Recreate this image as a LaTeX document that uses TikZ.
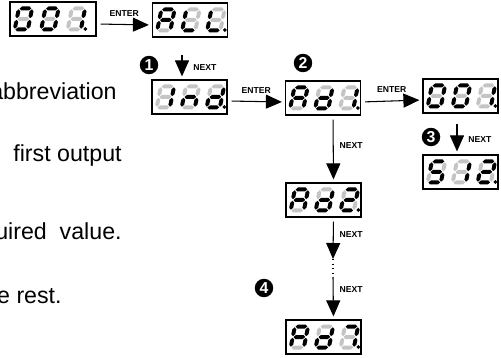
\documentclass[tikz,border=0pt]{standalone}
\usepackage{fontspec}
\setmainfont{Liberation Sans}
\usetikzlibrary{arrows.meta}
\tikzset{>={Triangle[length=3.2mm,width=2.8mm]}}
\definecolor{SegOff}{RGB}{196,196,196}

% segment codes a,b,c,d,e,f,g
\newcommand{\defseg}[2]{\expandafter\def\csname segcode#1\endcsname{#2}}
\defseg{0}{1,1,1,1,1,1,0}
\defseg{1}{0,1,1,0,0,0,0}
\defseg{2}{1,1,0,1,1,0,1}
\defseg{5}{1,0,1,1,0,1,1}
\defseg{7}{1,1,1,0,0,0,0}
\defseg{A}{1,1,1,0,1,1,1}
\defseg{L}{0,0,0,1,1,1,0}
\defseg{I}{0,1,1,0,0,0,0}
\defseg{n}{0,0,1,0,1,0,1}
\defseg{d}{0,1,1,1,1,0,1}

\newcommand{\segH}[3]{\fill[segcol] (#1,#3) -- ({#1+2},{#3-2}) -- ({#2-2},{#3-2}) -- (#2,#3) -- ({#2-2},{#3+2}) -- ({#1+2},{#3+2}) -- cycle;}
\newcommand{\segV}[3]{\fill[segcol] (#1,#2) -- ({#1+2},{#2+2}) -- ({#1+2},{#3-2}) -- (#1,#3) -- ({#1-2},{#3-2}) -- ({#1-2},{#2+2}) -- cycle;}

\newcommand{\leddigit}[3]{%
  \begin{scope}[shift={(#1,#2)}, xslant=0.2]
    \edef\seglist{\csname segcode#3\endcsname}
    \foreach \on [count=\i] in \seglist {%
      \ifnum\on=1 \colorlet{segcol}{black}\else\colorlet{segcol}{SegOff}\fi
      \ifcase\i\or \segH{-5.8}{5.8}{-10.5}\or \segV{6.6}{-9.7}{-0.8}\or \segV{6.6}{0.8}{9.7}\or
        \segH{-5.8}{5.8}{10.5}\or \segV{-6.6}{0.8}{9.7}\or \segV{-6.6}{-9.7}{-0.8}\or \segH{-5.8}{5.8}{0}\fi}
  \end{scope}}

\newcommand{\leddisp}[5][25]{%
  \begin{scope}[shift={(#2.west)}]
    \leddigit{14}{0}{#3}
    \leddigit{14+#1}{0}{#4}
    \leddigit{14+2*#1}{0}{#5}
    \fill ({23+2*#1},10) circle (1.9);
  \end{scope}}

\tikzset{
  dispbox/.style={draw, line width=0.7pt, minimum width=1.5cm, minimum height=0.68cm, inner sep=0pt},
  stepnum/.style={circle, fill=black, text=white, inner sep=0pt, minimum size=0.37cm, font=\bfseries\fontsize{9}{9}\selectfont},
  keylbl/.style={font=\bfseries\fontsize{4.9}{5}\selectfont, inner sep=0.5pt},
  txt/.style={font=\fontsize{13.2}{15}\selectfont, inner sep=0pt},
  flow/.style={->, line width=0.6pt, shorten <=0.8mm, shorten >=0.6mm}
}

\begin{document}
\begin{tikzpicture}[x=0.02cm, y=-0.02cm]
  \useasboundingbox (0,0) rectangle (501,358);
  \clip (0,0) rectangle (501,358);

  % displays
  \node[dispbox, minimum width=1.72cm] (b001) at (53,19) {};
  \node[dispbox] (ball) at (190,20) {};
  \node[dispbox] (bind) at (189.5,97) {};
  \node[dispbox] (bad1) at (323,98) {};
  \node[dispbox] (bval) at (460.5,96) {};
  \node[dispbox] (b512) at (460.5,172) {};
  \node[dispbox] (bad2) at (323.5,200) {};
  \node[dispbox] (bad7) at (323.5,337) {};

  \leddisp[26.5]{b001}{0}{0}{1}
  \leddisp{ball}{A}{L}{L}
  \leddisp{bind}{I}{n}{d}
  \leddisp{bad1}{A}{d}{1}
  \leddisp{bval}{0}{0}{1}
  \leddisp{b512}{5}{1}{2}
  \leddisp{bad2}{A}{d}{2}
  \leddisp{bad7}{A}{d}{7}

  % step numbers
  \node[stepnum] (st1) at (149,65) {1};
  \node[stepnum] (st2) at (303,63) {2};
  \node[stepnum] (st3) at (431,137) {3};
  \node[stepnum] (st4) at (264,288) {4};

  % text on the left
  \node[txt, anchor=east] (tx1) at (117,91) {abbreviation};
  \node[txt, anchor=east] (tx2) at (122,156) {first output};
  \node[txt, anchor=east] (tx3) at (122,231) {uired\ \ value.};
  \node[txt, anchor=east] (tx4) at (62,296) {e rest.};

  % ENTER steps
  \draw[flow] ([yshift=-0.1cm]b001.east) -- ([yshift=-0.1cm]ball.west)
    node[keylbl, midway, above=1.4mm] {ENTER};
  \draw[flow] ([yshift=-0.08cm]bind.east) -- ([yshift=-0.08cm]bad1.west)
    node[keylbl, midway, above=1.4mm] {ENTER};
  \draw[flow] ([yshift=-0.08cm]bad1.east) -- ([yshift=-0.08cm]bval.west)
    node[keylbl, midway, above=1.4mm] {ENTER};

  % NEXT steps
  \coordinate (n1) at (182,55);
  \coordinate (n3) at (457,124);
  \coordinate (dotA) at (333,259);
  \coordinate (dotB) at (333,277);
  \draw[flow, shorten <=0pt] (n1) -- (n1 |- bind.north)
    node[keylbl, midway, right=2mm] {NEXT};
  \draw[flow, shorten <=0pt] (n3) -- (n3 |- b512.north)
    node[keylbl, midway, right=2mm] {NEXT};
  \draw[flow] ([xshift=0.2cm]bad1.south) -- ([xshift=0.2cm]bad2.north)
    node[keylbl, pos=0.45, right=1mm] {NEXT};
  \draw[flow, shorten >=0pt] ([xshift=0.2cm]bad2.south) -- (dotA)
    node[keylbl, pos=0.4, right=1mm] {NEXT};
  \draw[dotted, line width=0.6pt] (dotA) -- (dotB);
  \draw[flow, shorten <=0pt] (dotB) -- ([xshift=0.2cm]bad7.north)
    node[keylbl, pos=0.3, right=1mm] {NEXT};
\end{tikzpicture}
\end{document}
